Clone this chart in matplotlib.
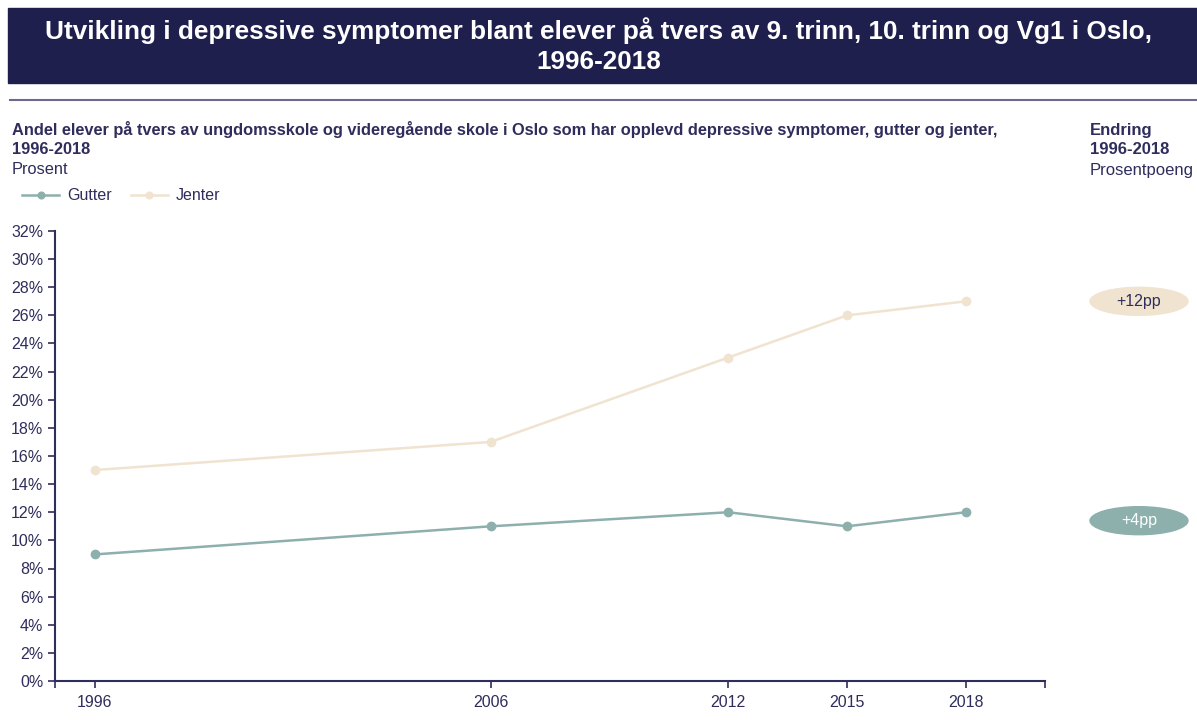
import matplotlib
matplotlib.use("Agg")
import matplotlib.pyplot as plt
from matplotlib.patches import Ellipse, Rectangle
from matplotlib.lines import Line2D
from matplotlib.ticker import FuncFormatter

years = [1996, 2006, 2012, 2015, 2018]
gutter = [9, 11, 12, 11, 12]
jenter = [15, 17, 23, 26, 27]
change_labels = ["+12pp", "+4pp"]

navy = "#1f1f4d"
text_col = "#2e2d5c"
gutter_col = "#8db0ad"
jenter_col = "#f0e3d0"

plt.rcParams["font.family"] = ["Liberation Sans", "DejaVu Sans"]

fig = plt.figure(figsize=(11.97, 7.22), dpi=100)

# header band
fig.patches.append(Rectangle((8 / 1197, 1 - 83 / 722), 1 - 8 / 1197, 75 / 722,
                             transform=fig.transFigure, color=navy, zorder=0))
fig.text(0.5, 1 - 31 / 722, "Utvikling i depressive symptomer blant elever på tvers av 9. trinn, 10. trinn og Vg1 i Oslo,",
         ha="center", va="center", color="white", fontsize=18.8, fontweight="bold")
fig.text(0.5, 1 - 62 / 722, "1996-2018", ha="center", va="center", color="white",
         fontsize=18.8, fontweight="bold")
fig.add_artist(Line2D([10 / 1197, 1], [1 - 100 / 722] * 2, transform=fig.transFigure,
                      color="#6d6a8c", lw=1.5))

fig.text(12 / 1197, 1 - 130 / 722,
         "Andel elever på tvers av ungdomsskole og videregående skole i Oslo som har opplevd depressive symptomer, gutter og jenter,",
         ha="left", va="center", color=text_col, fontsize=11.8, fontweight="bold")
fig.text(12 / 1197, 1 - 150 / 722, "1996-2018", ha="left", va="center",
         color=text_col, fontsize=11.8, fontweight="bold")
fig.text(12 / 1197, 1 - 170 / 722, "Prosent", ha="left", va="center",
         color=text_col, fontsize=11.8)

fig.text(1090 / 1197, 1 - 130 / 722, "Endring", ha="left", va="center",
         color=text_col, fontsize=12, fontweight="bold")
fig.text(1090 / 1197, 1 - 150 / 722, "1996-2018", ha="left", va="center",
         color=text_col, fontsize=12, fontweight="bold")
fig.text(1090 / 1197, 1 - 170 / 722, "Prosentpoeng", ha="left", va="center",
         color=text_col, fontsize=12)

ax = fig.add_axes([55 / 1197, 1 - 681 / 722, 990 / 1197, 450 / 722])
ax.plot(years, gutter, color=gutter_col, lw=1.8, marker="o", ms=6, label="Gutter")
ax.plot(years, jenter, color=jenter_col, lw=1.8, marker="o", ms=6, label="Jenter")

ax.set_xlim(1995, 2020)
ax.set_ylim(0, 32)
ax.set_yticks(range(0, 33, 2))
ax.yaxis.set_major_formatter(FuncFormatter(lambda v, p: f"{v:.0f}%"))
ax.set_xticks(years)
ax.set_xticks([1995, 2020], minor=True)
ax.tick_params(axis="x", which="minor", length=5, width=1.2, color=text_col)
ax.tick_params(axis="both", which="major", labelsize=11.5, labelcolor=text_col,
               color=text_col, width=1.2, length=5)
ax.tick_params(axis="x", pad=5)
for side in ["top", "right"]:
    ax.spines[side].set_visible(False)
for side in ["left", "bottom"]:
    ax.spines[side].set_color(text_col)
    ax.spines[side].set_linewidth(1.5)

leg = fig.legend(loc="center left", bbox_to_anchor=(8 / 1197, 1 - 196 / 722), ncol=2,
                 frameon=False, fontsize=11.5, handlelength=2.3, columnspacing=1.2,
                 handletextpad=0.5, markerscale=0.8)
for t in leg.get_texts():
    t.set_color(text_col)

# change ellipses on the right
for label, val, fc, tc in [(change_labels[0], jenter[-1], jenter_col, text_col),
                           (change_labels[1], gutter[-1] - 0.6, gutter_col, "white")]:
    y = ax.transData.transform((2018, val))[1] / fig.bbox.height
    fig.patches.append(Ellipse((1139 / 1197, y), 98 / 1197, 28 / 722,
                               transform=fig.transFigure, color=fc))
    fig.text(1139 / 1197, y, label, ha="center", va="center", color=tc, fontsize=11.5)

fig.savefig("out.png", dpi=100)
